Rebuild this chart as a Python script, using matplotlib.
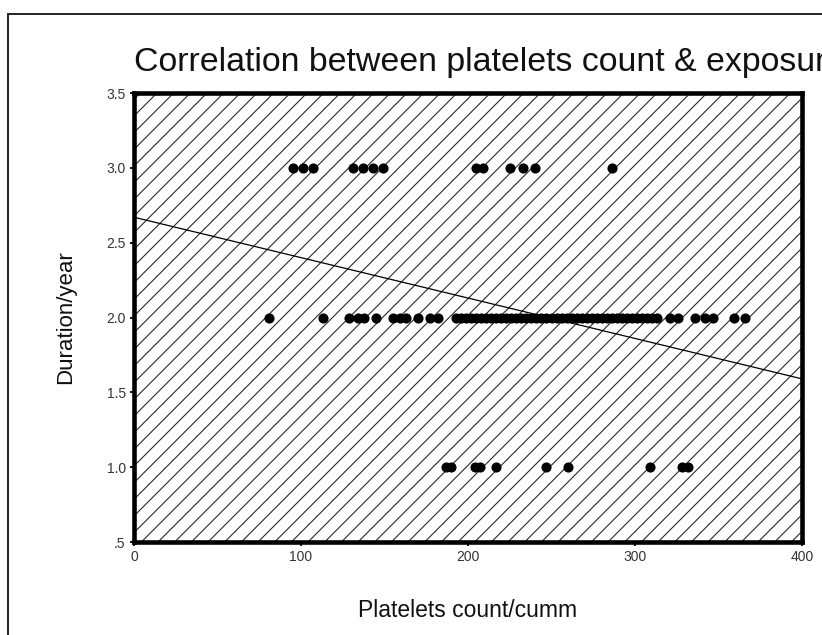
import numpy as np
import matplotlib
matplotlib.use('Agg')
import matplotlib.pyplot as plt
from matplotlib.patches import Rectangle

# ---------------------------------------------------------------------------
# data
# ---------------------------------------------------------------------------
platelets_3yr = [95, 101, 107, 131, 137, 143, 149, 205, 209, 225, 233, 240, 286]
platelets_2yr = [81, 113, 129, 134, 138, 145, 155, 159, 163, 170, 177, 182,
                 193, 196, 199, 202, 205, 208, 211, 214, 217, 220, 223, 226,
                 229, 232, 235, 238, 241, 244, 247, 250, 253, 256, 259, 262,
                 265, 268, 271, 274, 277, 280, 283, 286, 289, 292, 295, 298,
                 301, 304, 307, 310, 313, 321, 326, 336, 342, 347, 359, 366]
platelets_1yr = [187, 190, 204, 207, 217, 247, 260, 309, 328, 332]

durations = [3.0, 2.0, 1.0]
groups = [platelets_3yr, platelets_2yr, platelets_1yr]

# fit line end points (as drawn in the reference)
fit_x = [0, 400]
fit_y = [2.67, 1.59]

xticks = [0, 100, 200, 300, 400]
yticks = [0.5, 1.0, 1.5, 2.0, 2.5, 3.0, 3.5]
ytick_labels = ['.5', '1.0', '1.5', '2.0', '2.5', '3.0', '3.5']

title = 'Correlation between platelets count & exposure duration'

# ---------------------------------------------------------------------------
# styling
# ---------------------------------------------------------------------------
plt.rcParams['font.family'] = ['Liberation Sans', 'DejaVu Sans']
plt.rcParams['hatch.linewidth'] = 0.8
dpi = 100

fig = plt.figure(figsize=(822 / dpi, 635 / dpi), dpi=dpi)
fig.patch.set_facecolor('white')

# outer chart frame (runs off the right and bottom edges)
fig.patches.append(Rectangle((8 / 822, -0.1), 1.2, 1 - 14 / 635 + 0.1,
                             transform=fig.transFigure, fill=False,
                             edgecolor='#222222', linewidth=1.4))

ax = fig.add_axes([134 / 822, 1 - 542 / 635, 668 / 822, 449 / 635])
ax.set_facecolor('white')

# hatched plot background
ax.add_patch(Rectangle((0, 0), 1, 1, transform=ax.transAxes, fill=False,
                       hatch='//', edgecolor='#2a2a2a', linewidth=0, zorder=0))

for dur, xs in zip(durations, groups):
    ax.plot(xs, [dur] * len(xs), 'o', color='black', markersize=7.3,
            markeredgewidth=0, zorder=3)

ax.plot(fit_x, fit_y, color='black', linewidth=0.9, zorder=2)

ax.set_xlim(0, 400)
ax.set_ylim(0.5, 3.5)
ax.set_xticks(xticks)
ax.set_yticks(yticks)
ax.set_yticklabels(ytick_labels)

for s in ax.spines.values():
    s.set_linewidth(3.3)
    s.set_color('black')

ax.tick_params(axis='both', direction='out', length=3, width=1.3,
               colors='black', labelsize=10, labelcolor='#333340')
ax.tick_params(axis='y', pad=3)
ax.tick_params(axis='x', pad=3)

ax.set_xlabel('Platelets count/cumm', fontsize=16.5, labelpad=25, color='#111111')
ax.set_ylabel('Duration/year', fontsize=16, labelpad=22, color='#111111')

fig.text(134 / 822, 1 - 71 / 635, title, fontsize=24.4, color='#111111',
         ha='left', va='baseline')

fig.savefig('out.png', dpi=dpi)
